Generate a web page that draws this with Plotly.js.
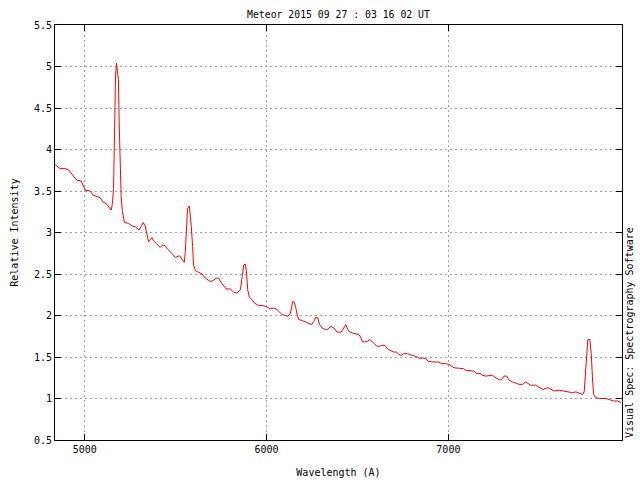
<!DOCTYPE html>
<html>
<head>
<meta charset="utf-8">
<script src="https://cdn.plot.ly/plotly-3.0.1.min.js"></script>
<style>html,body{margin:0;padding:0;background:#fff;}#chart{width:640px;height:480px;}</style>
</head>
<body>
<div id="chart"></div>
<script>
// Wavelength (Angstrom)
const wavelength = [
  4836, 4842, 4864, 4891, 4913, 4937, 4956, 4980, 5002, 5029, 5046, 5072, 5084, 5099, 5121, 5145,
  5152, 5158, 5161, 5165, 5169, 5174, 5180, 5185, 5189, 5194, 5200, 5207, 5218, 5240, 5259, 5277,
  5292, 5299, 5310, 5321, 5332, 5342, 5350, 5360, 5369, 5378, 5391, 5402, 5415, 5428, 5442, 5455,
  5470, 5483, 5498, 5510, 5521, 5534, 5547, 5553, 5558, 5565, 5575, 5580, 5586, 5593, 5598, 5608,
  5626, 5645, 5663, 5690, 5705, 5723, 5736, 5755, 5778, 5801, 5819, 5837, 5856, 5865, 5874, 5883,
  5889, 5896, 5905, 5920, 5933, 5956, 5984, 6003, 6021, 6039, 6058, 6072, 6085, 6104, 6118, 6131,
  6138, 6144, 6152, 6159, 6168, 6177, 6196, 6214, 6232, 6247, 6260, 6271, 6282, 6291, 6306, 6324,
  6337, 6352, 6370, 6388, 6410, 6425, 6436, 6447, 6458, 6471, 6489, 6507, 6517, 6526, 6539, 6554,
  6568, 6581, 6594, 6605, 6623, 6632, 6651, 6664, 6682, 6697, 6715, 6728, 6741, 6752, 6774, 6788,
  6810, 6829, 6844, 6857, 6875, 6888, 6912, 6948, 6961, 6985, 7003, 7031, 7083, 7095, 7141, 7156,
  7178, 7187, 7205, 7242, 7255, 7270, 7284, 7297, 7306, 7321, 7334, 7353, 7371, 7389, 7408, 7426,
  7439, 7453, 7481, 7499, 7518, 7536, 7549, 7564, 7582, 7609, 7634, 7646, 7683, 7701, 7720, 7738,
  7747, 7753, 7760, 7767, 7778, 7786, 7793, 7799, 7811, 7830, 7867, 7885, 7909, 7931, 7949
];
// Relative intensity
const intensity = [
  3.82, 3.81, 3.77, 3.77, 3.75, 3.68, 3.63, 3.62, 3.51, 3.50, 3.45, 3.43, 3.42, 3.37, 3.34, 3.27,
  3.35, 3.53, 4.03, 4.60, 4.89, 5.04, 4.96, 4.84, 4.33, 3.73, 3.43, 3.25, 3.12, 3.11, 3.08, 3.07,
  3.04, 3.03, 3.07, 3.12, 3.08, 2.97, 2.89, 2.91, 2.94, 2.90, 2.87, 2.85, 2.82, 2.85, 2.84, 2.80,
  2.77, 2.74, 2.70, 2.71, 2.72, 2.68, 2.64, 2.77, 2.99, 3.29, 3.32, 3.21, 3.07, 2.83, 2.61, 2.54,
  2.52, 2.50, 2.45, 2.41, 2.42, 2.45, 2.45, 2.38, 2.32, 2.32, 2.28, 2.27, 2.31, 2.45, 2.61, 2.62,
  2.53, 2.31, 2.22, 2.19, 2.15, 2.12, 2.12, 2.10, 2.08, 2.09, 2.07, 2.04, 2.01, 2.00, 1.99, 2.03,
  2.11, 2.17, 2.16, 2.11, 2.01, 1.95, 1.94, 1.92, 1.90, 1.89, 1.93, 1.98, 1.97, 1.89, 1.85, 1.83,
  1.83, 1.87, 1.85, 1.80, 1.80, 1.85, 1.89, 1.83, 1.80, 1.79, 1.78, 1.77, 1.74, 1.69, 1.68, 1.69,
  1.71, 1.69, 1.66, 1.63, 1.63, 1.64, 1.64, 1.60, 1.58, 1.56, 1.56, 1.53, 1.52, 1.54, 1.54, 1.53,
  1.52, 1.50, 1.48, 1.49, 1.48, 1.45, 1.44, 1.44, 1.42, 1.42, 1.41, 1.37, 1.36, 1.34, 1.33, 1.30,
  1.30, 1.28, 1.27, 1.28, 1.26, 1.24, 1.22, 1.24, 1.27, 1.27, 1.22, 1.20, 1.18, 1.17, 1.17, 1.20,
  1.18, 1.16, 1.16, 1.14, 1.11, 1.12, 1.13, 1.11, 1.09, 1.10, 1.09, 1.08, 1.07, 1.08, 1.06, 1.05,
  1.08, 1.25, 1.51, 1.71, 1.71, 1.54, 1.22, 1.05, 1.01, 1.00, 1.00, 0.99, 0.97, 0.97, 0.95
];
const titleText = "Meteor 2015 09 27 : 03 16 02 UT";
const xLabel = "Wavelength (A)";
const yLabel = "Relative Intensity";
const sideText = "Visual Spec: Spectrography Software";
const xTicks = [5000, 6000, 7000];
const yTicks = [0.5, 1, 1.5, 2, 2.5, 3, 3.5, 4, 4.5, 5, 5.5];

const mono = "DejaVu Sans Mono, Liberation Mono, monospace";

const trace = {
  x: wavelength,
  y: intensity,
  type: "scatter",
  mode: "lines",
  line: {color: "#ff0000", width: 1},
  hoverinfo: "x+y"
};

const axisCommon = {
  showline: true,
  linecolor: "#000000",
  linewidth: 1,
  mirror: "ticks",
  ticks: "inside",
  ticklen: 6,
  tickcolor: "#000000",
  tickwidth: 1,
  showgrid: true,
  gridcolor: "#a0a0a0",
  gridwidth: 1,
  griddash: "2px,3px",
  zeroline: false,
  tickfont: {family: mono, size: 10, color: "#000000"}
};

const layout = {
  width: 640,
  height: 480,
  paper_bgcolor: "#ffffff",
  plot_bgcolor: "#ffffff",
  margin: {l: 55, r: 18, t: 25, b: 40, pad: 0},
  showlegend: false,
  font: {family: mono, size: 10, color: "#000000"},
  title: {
    text: titleText,
    font: {family: mono, size: 9.8, color: "#000000"},
    x: 0.5, xref: "paper", xanchor: "center",
    y: 1, yref: "paper", yanchor: "bottom", pad: {b: 7}
  },
  xaxis: Object.assign({}, axisCommon, {
    range: [4836, 7955],
    tickvals: xTicks,
    ticktext: xTicks.map(String),
    title: {text: xLabel, font: {family: mono, size: 10, color: "#000000"}, standoff: 14}
  }),
  yaxis: Object.assign({}, axisCommon, {
    range: [0.5, 5.5],
    tickvals: yTicks,
    ticktext: yTicks.map(String),
    title: {text: yLabel, font: {family: mono, size: 10, color: "#000000"}, standoff: 13}
  }),
  annotations: [{
    text: sideText,
    xref: "paper", yref: "paper",
    x: 1, y: 0,
    xanchor: "left", yanchor: "bottom",
    xshift: 0,
    textangle: -90,
    showarrow: false,
    font: {family: mono, size: 10, color: "#000000"}
  }]
};

Plotly.newPlot("chart", [trace], layout, {displayModeBar: false, staticPlot: true});
</script>
</body>
</html>
